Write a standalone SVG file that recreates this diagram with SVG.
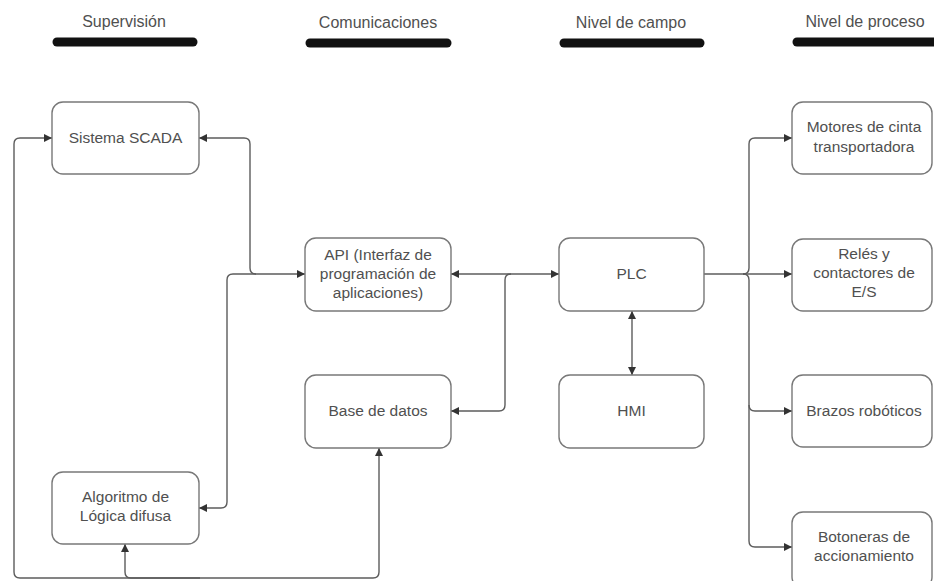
<svg xmlns="http://www.w3.org/2000/svg" width="934" height="581" viewBox="0 0 934 581">
  <style>
    .box { fill: #ffffff; stroke: #787878; stroke-width: 1.4; }
    .lbl { font-family: "Liberation Sans", Arial, sans-serif; font-size: 15.5px; fill: #505050; text-anchor: middle; }
    .hdr { font-family: "Liberation Sans", Arial, sans-serif; font-size: 16px; fill: #505050; text-anchor: middle; }
    .bar { stroke: #111111; stroke-width: 9; stroke-linecap: round; }
    .wire { fill: none; stroke: #5c5c5c; stroke-width: 1.4; }
  </style>
  <defs>
    <marker id="arrow" viewBox="0 0 10 10" refX="10" refY="5" markerWidth="11" markerHeight="8" markerUnits="userSpaceOnUse" orient="auto-start-reverse">
      <path d="M0,0 L10,5 L0,10 z" fill="#333333"/>
    </marker>
  </defs>
  <rect width="934" height="581" fill="#ffffff"/>

  <!-- column headers -->
  <g id="headers">
    <text class="hdr" x="124" y="27">Supervisión</text>
    <line class="bar" x1="57" y1="42" x2="193" y2="42"/>
    <text class="hdr" x="378" y="28">Comunicaciones</text>
    <line class="bar" x1="310" y1="43" x2="447" y2="43"/>
    <text class="hdr" x="631" y="28">Nivel de campo</text>
    <line class="bar" x1="564" y1="43" x2="700" y2="43"/>
    <text class="hdr" x="865" y="27">Nivel de proceso</text>
    <line class="bar" x1="797" y1="42" x2="945" y2="42"/>
  </g>

  <!-- connectors -->
  <g id="connectors">
    <!-- SCADA <-> API -->
    <path class="wire" d="M199,138 H244 Q250,138 250,144 V268 Q250,274 256,274 H305" marker-start="url(#arrow)" marker-end="url(#arrow)"/>
    <!-- API <-> Algoritmo -->
    <path class="wire" d="M256,274 H233 Q227,274 227,280 V502 Q227,508 221,508 H199" marker-end="url(#arrow)"/>
    <!-- API <-> PLC -->
    <path class="wire" d="M451,274 H559" marker-start="url(#arrow)" marker-end="url(#arrow)"/>
    <!-- branch to Base de datos -->
    <path class="wire" d="M511,274 Q505,274 505,280 V405 Q505,411 499,411 H451" marker-end="url(#arrow)"/>
    <!-- PLC <-> HMI -->
    <path class="wire" d="M632,311 V375" marker-start="url(#arrow)" marker-end="url(#arrow)"/>
    <!-- PLC to process level -->
    <path class="wire" d="M704,274 H792" marker-end="url(#arrow)"/>
    <path class="wire" d="M743,274 Q749,274 749,268 V144 Q749,138 755,138 H792" marker-end="url(#arrow)"/>
    <path class="wire" d="M743,274 Q749,274 749,280 V541 Q749,547 755,547 H792" marker-end="url(#arrow)"/>
    <path class="wire" d="M749,405 Q749,411 755,411 H792" marker-end="url(#arrow)"/>
    <!-- Base de datos <-> SCADA (bottom loop) -->
    <path class="wire" d="M379,448 V572 Q379,578 373,578 H20 Q14,578 14,572 V144 Q14,138 20,138 H52" marker-start="url(#arrow)" marker-end="url(#arrow)"/>
    <!-- Algoritmo <-> bottom loop -->
    <path class="wire" d="M125,544 V572 Q125,578 131,578 H200" marker-start="url(#arrow)"/>
  </g>

  <g id="scada">
    <rect class="box" x="52" y="102" width="147" height="72" rx="11"/>
    <text class="lbl" x="125.5" y="143">Sistema SCADA</text>
  </g>
  <g id="algoritmo">
    <rect class="box" x="52" y="472" width="147" height="72" rx="11"/>
    <text class="lbl" x="125.5" y="502">Algoritmo de</text>
    <text class="lbl" x="125.5" y="521">Lógica difusa</text>
  </g>
  <g id="api">
    <rect class="box" x="305" y="238" width="146" height="73" rx="11"/>
    <text class="lbl" x="378" y="260">API (Interfaz de</text>
    <text class="lbl" x="378" y="279">programación de</text>
    <text class="lbl" x="378" y="298">aplicaciones)</text>
  </g>
  <g id="base-datos">
    <rect class="box" x="305" y="375" width="146" height="73" rx="11"/>
    <text class="lbl" x="378" y="416">Base de datos</text>
  </g>
  <g id="plc">
    <rect class="box" x="559" y="238" width="145" height="73" rx="11"/>
    <text class="lbl" x="631.5" y="279">PLC</text>
  </g>
  <g id="hmi">
    <rect class="box" x="559" y="375" width="145" height="73" rx="11"/>
    <text class="lbl" x="631.5" y="416">HMI</text>
  </g>
  <g id="motores">
    <rect class="box" x="792" y="102" width="140" height="72" rx="11"/>
    <text class="lbl" x="864" y="132">Motores de cinta</text>
    <text class="lbl" x="864" y="152">transportadora</text>
  </g>
  <g id="reles">
    <rect class="box" x="792" y="239" width="140" height="72" rx="11"/>
    <text class="lbl" x="864" y="259">Relés y</text>
    <text class="lbl" x="864" y="278">contactores de</text>
    <text class="lbl" x="864" y="297">E/S</text>
  </g>
  <g id="brazos">
    <rect class="box" x="792" y="375" width="140" height="72" rx="11"/>
    <text class="lbl" x="864" y="416">Brazos robóticos</text>
  </g>
  <g id="botoneras">
    <rect class="box" x="792" y="512" width="140" height="76" rx="11"/>
    <text class="lbl" x="864" y="542">Botoneras de</text>
    <text class="lbl" x="864" y="561">accionamiento</text>
  </g>
</svg>
